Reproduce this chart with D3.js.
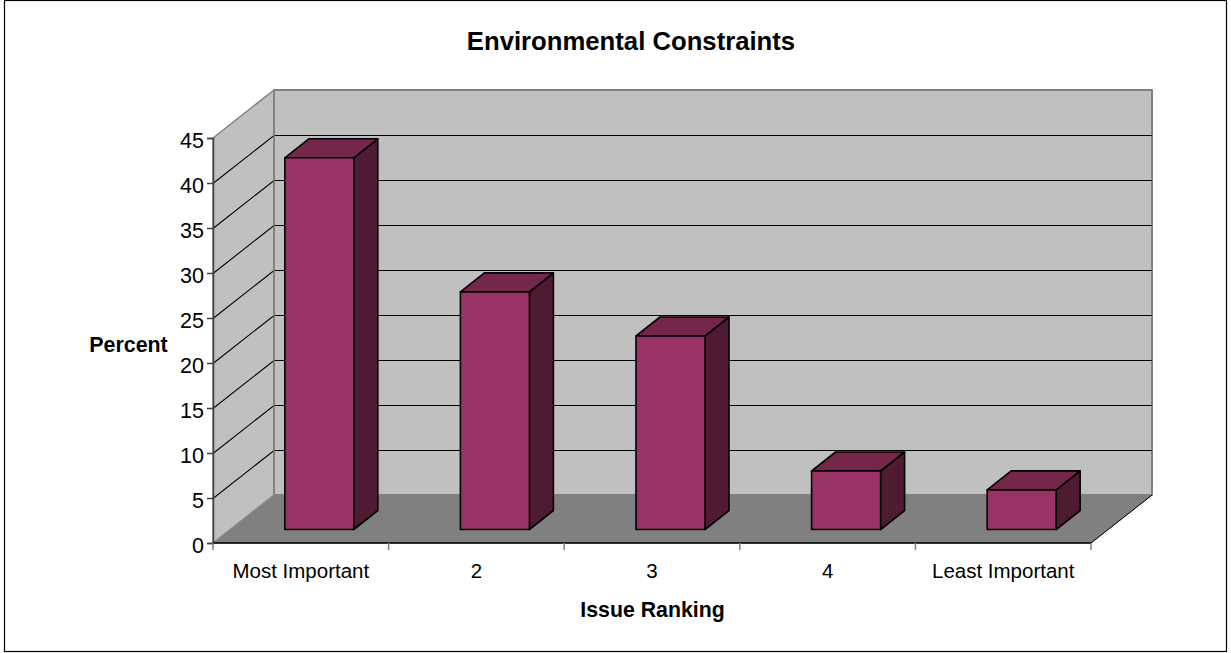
<!DOCTYPE html>
<html><head><meta charset="utf-8">
<script src="https://cdn.jsdelivr.net/npm/d3@7/dist/d3.min.js"></script>
<style>html,body{margin:0;padding:0;background:#fff}svg{display:block}text{font-family:"Liberation Sans",Arial,sans-serif;fill:#000}</style>
</head><body><svg id="c" width="1231" height="653"></svg>
<script>
const categories=["Most Important","2","3","4","Least Important"];
const values=[41.3,26.4,21.5,6.5,4.4];
const yTicks=[0,5,10,15,20,25,30,35,40,45];
const titleText="Environmental Constraints",xTitle="Issue Ranking",yTitle="Percent";

const svg=d3.select("#c");
const x=d3.scaleBand().domain(categories).range([213,1091]);
const y=d3.scaleLinear().domain([0,45]).range([543,138]);
const DX=61,DY=48,barW=69,bdx=24,bdy=19;
const xL=213,xR=1091;
const poly=(pts,fill,stroke,sw)=>svg.append("polygon").attr("points",pts.map(p=>p.join(",")).join(" ")).attr("fill",fill).attr("stroke",stroke||"none").attr("stroke-width",sw||0).attr("stroke-linejoin","round");

svg.append("rect").attr("x",4.5).attr("y",0.5).attr("width",1222).attr("height",651).attr("fill","#fff").attr("stroke","#000").attr("stroke-width",1.2);

// walls
poly([[xL+DX,y(45)-DY],[xR+DX,y(45)-DY],[xR+DX,y(0)-DY],[xL+DX,y(0)-DY]],"#c0c0c0","#808080",2);
poly([[xL,y(45)],[xL+DX,y(45)-DY],[xL+DX,y(0)-DY],[xL,y(0)]],"#c0c0c0","#808080",1.5);
poly([[xL,y(0)],[xL+DX,y(0)-DY],[xR+DX,y(0)-DY],[xR,y(0)]],"#808080","#808080",1);

// gridlines
yTicks.filter(t=>t>0&&t<45).forEach(t=>{
  svg.append("path").attr("fill","none").attr("stroke","#000").attr("stroke-width",1.1)
   .attr("d",d3.line()([[xL,y(t)],[xL+DX,y(t)-DY],[xR+DX,y(t)-DY]].map(p=>[p[0],p[1]+0.5])));
});
svg.append("line").attr("x1",xL+DX).attr("x2",xL+DX).attr("y1",y(45)-DY).attr("y2",y(0)-DY).attr("stroke","#808080").attr("stroke-width",1.5);
svg.append("line").attr("x1",xR+DX).attr("x2",xR).attr("y1",y(0)-DY).attr("y2",y(0)).attr("stroke","#000").attr("stroke-width",1);
svg.append("line").attr("x1",xL).attr("x2",xL+DX).attr("y1",y(0)).attr("y2",y(0)-DY).attr("stroke","#909090").attr("stroke-width",1);

// bars
const ox=(DX-bdx)/2, oy=(DY-bdy)/2-1;
categories.forEach((c,i)=>{
  const x0=x(c)+x.bandwidth()/2-barW/2+ox, x1=x0+barW;
  const b=y(0)-oy, t=y(values[i])-oy;
  poly([[x1,t],[x1+bdx,t-bdy],[x1+bdx,b-bdy],[x1,b]],"#4f1b33","#000",1.6);
  poly([[x0,t],[x0+bdx,t-bdy],[x1+bdx,t-bdy],[x1,t]],"#74264b","#000",1.6);
  poly([[x0,t],[x1,t],[x1,b],[x0,b]],"#993366","#000",1.6);
});

// axes
const yAxis=d3.axisLeft(y).tickValues(yTicks).tickSize(6).tickPadding(3);
const gy=svg.append("g").attr("transform",`translate(${xL},0)`).call(yAxis);
gy.select(".domain").attr("stroke","#404040").attr("stroke-width",1.5);
gy.selectAll("line").attr("stroke","#404040").attr("stroke-width",1.5);
gy.selectAll("text").style("font-size","21.5px").attr("font-family",null).attr("dy","0.46em");

const xAxis=d3.axisBottom(x).tickSize(0).tickPadding(20);
const gx=svg.append("g").attr("transform",`translate(0,${y(0)})`).call(xAxis);
gx.select(".domain").attr("stroke","#000").attr("stroke-width",1.5).attr("d",`M${xL},0H${xR}`);
gx.selectAll("text").style("font-size","20.5px").attr("font-family",null);
d3.range(0,categories.length+1).forEach(i=>{
  const px=xL+i*x.step();
  svg.append("line").attr("x1",px).attr("x2",px).attr("y1",y(0)).attr("y2",y(0)+7).attr("stroke","#808080").attr("stroke-width",1.5);
});

svg.append("text").attr("x",631).attr("y",50).attr("text-anchor","middle").style("font-size","25.7px").style("font-weight","bold").text(titleText);
svg.append("text").attr("x",652.5).attr("y",617).attr("text-anchor","middle").style("font-size","21.3px").style("font-weight","bold").text(xTitle);
svg.append("text").attr("x",128.5).attr("y",352).attr("text-anchor","middle").style("font-size","21.4px").style("font-weight","bold").text(yTitle);
</script></body></html>
